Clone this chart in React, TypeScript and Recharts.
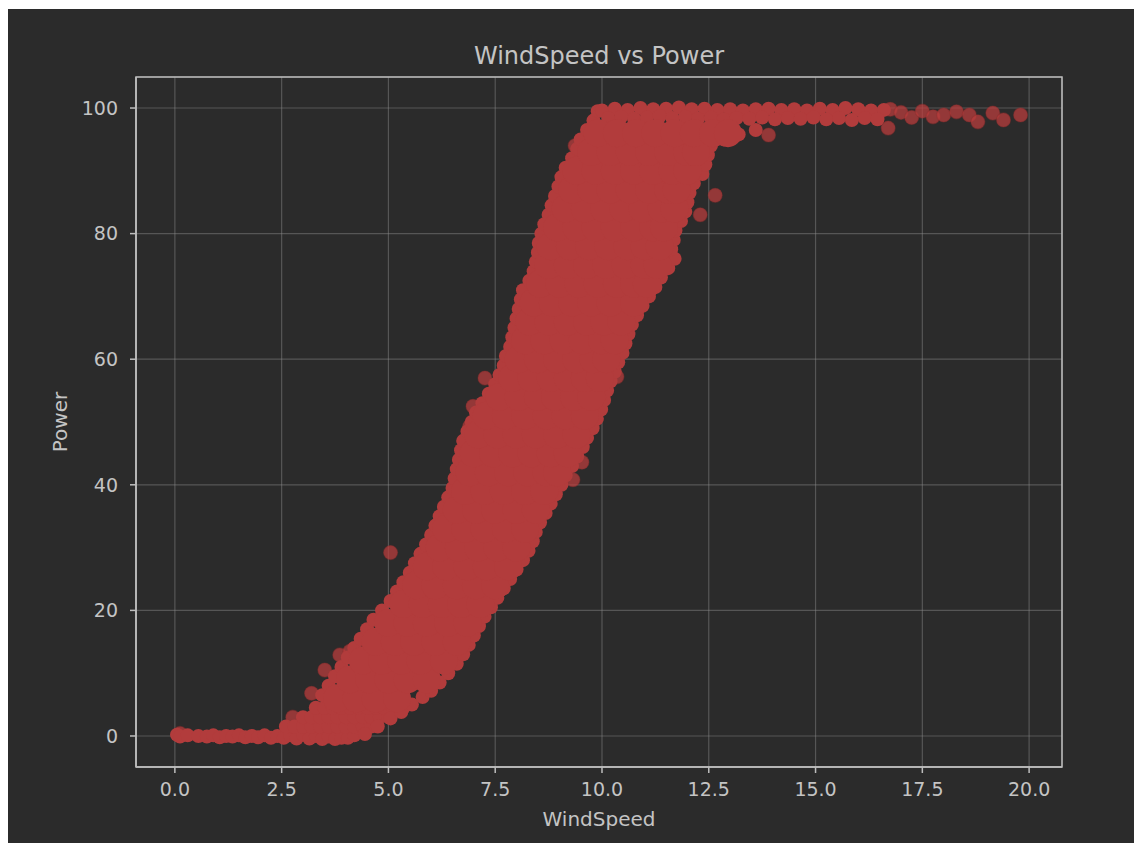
import {
  ScatterChart,
  Scatter,
  XAxis,
  YAxis,
  CartesianGrid,
  ReferenceArea,
  Label,
} from "recharts";

// axis ticks
const xTicks = [0, 2.5, 5, 7.5, 10, 12.5, 15, 17.5, 20];
const yTicks = [0, 20, 40, 60, 80, 100];

// dense middle of the cloud: one row of wind speeds per power level
const corePower = [6, 9, 12, 15, 18, 21, 24, 27, 30, 33, 36, 39, 42, 45, 48, 51, 54, 57, 60, 63, 66, 69, 72, 75, 78, 81, 84, 87, 90, 93, 96];
const coreWind = [
  [3.8, 4.25, 4.7, 5.2],
  [4.1, 4.55, 5.0, 5.45, 5.9],
  [4.4, 4.85, 5.3, 5.75, 6.3],
  [4.7, 5.15, 5.6, 6.1, 6.6],
  [5.0, 5.45, 5.9, 6.4, 6.85],
  [5.35, 5.8, 6.25, 6.7, 7.15],
  [5.65, 6.1, 6.6, 7.05, 7.5],
  [5.9, 6.35, 6.85, 7.3, 7.8],
  [6.2, 6.65, 7.1, 7.55, 8.0],
  [6.35, 6.8, 7.25, 7.75, 8.2],
  [6.6, 7.05, 7.5, 8.0, 8.45],
  [6.8, 7.25, 7.7, 8.2, 8.65],
  [6.9, 7.35, 7.8, 8.25, 8.7, 8.95],
  [7.0, 7.45, 7.9, 8.35, 8.8, 9.2],
  [7.1, 7.55, 8.0, 8.45, 8.95, 9.4],
  [7.3, 7.75, 8.2, 8.7, 9.15, 9.6],
  [7.6, 8.05, 8.5, 8.9, 9.35, 9.75],
  [7.9, 8.35, 8.8, 9.2, 9.6, 9.95],
  [8.05, 8.5, 8.95, 9.4, 9.8, 10.1],
  [8.2, 8.65, 9.1, 9.55, 10.0, 10.3],
  [8.3, 8.75, 9.2, 9.65, 10.05, 10.45],
  [8.4, 8.85, 9.3, 9.75, 10.2, 10.75],
  [8.55, 9.0, 9.45, 9.9, 10.35, 10.75, 11.05],
  [8.75, 9.2, 9.65, 10.1, 10.55, 11.0, 11.3],
  [8.8, 9.25, 9.7, 10.15, 10.6, 11.0, 11.35],
  [8.95, 9.4, 9.85, 10.3, 10.75, 11.2, 11.45],
  [9.15, 9.6, 10.05, 10.5, 10.95, 11.4, 11.7],
  [9.3, 9.75, 10.2, 10.65, 11.1, 11.55, 11.75],
  [9.4, 9.85, 10.3, 10.75, 11.2, 11.65, 12.0],
  [9.75, 10.2, 10.65, 11.1, 11.55, 12.0, 12.2],
  [9.9, 10.35, 10.8, 11.25, 11.7, 12.15, 12.6, 12.95],
];

// [windspeed, power]
const flatBand = [
  [0.05, 0.2], [0.12, -0.1], [0.3, 0.1], [0.55, 0.0], [0.75, -0.1], [0.9, 0.1], [1.05, -0.2],
  [1.2, 0.0], [1.35, -0.1], [1.5, 0.1], [1.65, -0.2], [1.8, 0.0], [1.95, -0.2], [2.1, 0.1],
  [2.25, -0.3], [2.4, 0.0], [2.55, -0.3], [2.7, 0.1], [2.85, -0.4], [3.0, 0.2], [3.15, -0.4],
  [3.3, 0.0], [3.45, -0.5], [3.6, -0.1], [3.75, -0.5], [3.9, -0.3], [4.05, -0.3], [4.2, 0.1],
];

const risingPart = [
  [2.6, 1.5], [2.8, 1.5], [3.0, 1.5], [3.2, 1.5], [3.4, 1.5], [3.6, 1.5], [3.8, 1.5], [4.0, 1.5], [4.2, 1.5], [4.4, 1.5], [4.6, 1.5],
  [3.0, 3], [3.2, 3], [3.4, 3], [3.6, 3], [3.8, 3], [4.0, 3], [4.2, 3], [4.4, 3], [4.6, 3], [4.8, 3], [5.0, 3],
  [3.3, 4.5], [3.5, 4.5], [3.7, 4.5], [3.9, 4.5], [4.1, 4.5], [4.3, 4.5], [4.5, 4.5], [4.7, 4.5], [4.9, 4.5], [5.1, 4.5], [5.35, 4.5],
];

const leftEdge = [
  [3.45, 6.5], [3.6, 8], [3.75, 9.5], [3.9, 11], [4.05, 12.5], [4.2, 14], [4.35, 15.5], [4.5, 17],
  [4.65, 18.5], [4.85, 20], [5.05, 21.5], [5.2, 23], [5.35, 24.5], [5.5, 26], [5.62, 27.5], [5.75, 29],
  [5.88, 30.5], [6.0, 32], [6.1, 33.5], [6.2, 35], [6.3, 36.5], [6.4, 38], [6.5, 39.5], [6.55, 41],
  [6.6, 42.5], [6.65, 44], [6.7, 45.5], [6.75, 47], [6.85, 48.5], [6.95, 50], [7.05, 51.5], [7.2, 53],
  [7.35, 54.5], [7.5, 56], [7.6, 57.5], [7.7, 59], [7.75, 60.5], [7.85, 62], [7.9, 63.5], [7.95, 65],
  [8.0, 66.5], [8.05, 68], [8.1, 69.5], [8.15, 71], [8.3, 72.5], [8.4, 74], [8.45, 75.5], [8.5, 77],
  [8.52, 78.5], [8.58, 80], [8.65, 81.5], [8.75, 83], [8.82, 84.5], [8.9, 86], [8.98, 87.5], [9.05, 89],
  [9.15, 90.5], [9.3, 92], [9.42, 93.5], [9.5, 95], [9.65, 96.5], [9.8, 98], [9.9, 99.5],
];

const rightEdge = [
  [4.45, 0.3], [4.75, 1.5], [5.05, 2.8], [5.3, 3.8], [5.55, 5], [5.8, 6.2], [6.0, 7.2], [6.2, 8.5],
  [6.4, 10], [6.6, 11.5], [6.75, 13], [6.88, 14.5], [7.0, 16], [7.12, 17.5], [7.25, 19], [7.4, 20.5],
  [7.55, 22], [7.7, 23.5], [7.85, 25], [8.0, 26.5], [8.15, 28], [8.28, 29.5], [8.38, 31], [8.45, 32.5],
  [8.55, 34], [8.68, 35.5], [8.8, 37], [8.92, 38.5], [9.05, 40], [9.15, 41.5], [9.3, 43], [9.42, 44.5],
  [9.55, 46], [9.65, 47.5], [9.78, 49], [9.88, 50.5], [9.98, 52], [10.05, 53.5], [10.12, 55], [10.2, 56.5],
  [10.3, 58], [10.38, 59.5], [10.48, 61], [10.55, 62.5], [10.62, 64], [10.7, 65.5], [10.82, 67], [10.95, 68.5],
  [11.1, 70], [11.25, 71.5], [11.38, 73], [11.55, 74.5], [11.7, 76], [11.62, 77.5], [11.68, 79], [11.72, 80.5],
  [11.85, 82], [11.95, 83.5], [12.0, 85], [12.05, 86.5], [12.15, 88], [12.35, 89.5], [12.42, 91], [12.48, 92.5],
  [12.55, 94], [12.85, 95], [13.2, 95.8], [13.6, 96.5],
];

const plateauTop = [
  [10.0, 99.6], [10.3, 99.9], [10.6, 99.7], [10.9, 100.0], [11.2, 99.8], [11.5, 99.9], [11.8, 100.1], [12.1, 99.8],
  [12.4, 99.9], [12.7, 99.7], [13.0, 99.8], [13.3, 99.6], [13.6, 99.8], [13.9, 99.9], [14.2, 99.7], [14.5, 99.8],
  [14.8, 99.6], [15.1, 99.9], [15.4, 99.7], [15.7, 100.0], [16.0, 99.8], [16.3, 99.6], [16.6, 99.7],
];

const plateauLow = [
  [10.15, 98.4], [10.45, 98.6], [10.75, 98.3], [11.05, 98.5], [11.35, 98.7], [11.65, 98.4], [11.95, 98.6], [12.25, 98.3],
  [12.55, 98.5], [12.85, 98.2], [13.15, 98.4], [13.45, 98.3], [13.75, 98.5], [14.05, 98.2], [14.35, 98.4], [14.65, 98.3],
  [14.95, 98.5], [15.25, 98.2], [15.55, 98.4], [15.85, 98.1], [16.15, 98.4], [16.45, 98.2],
];

const tail = [
  [16.75, 99.8], [17.0, 99.3], [17.25, 98.5], [17.5, 99.5], [17.75, 98.6], [18.0, 98.9], [18.3, 99.4],
  [18.6, 98.9], [18.8, 97.8], [19.15, 99.2], [19.4, 98.1], [19.8, 98.9],
];

const outliers = [
  [2.76, 3.0], [3.2, 6.8], [3.51, 10.5], [3.86, 12.9], [4.1, 13.5], [4.4, 15.3], [5.05, 29.2],
  [6.98, 52.5], [6.9, 49.3], [7.26, 57], [9.53, 43.6], [9.32, 40.8], [10.35, 57.2], [10.9, 69.4],
  [12.65, 86.1], [12.3, 83], [13.9, 95.7], [16.7, 96.8], [9.37, 94], [0.12, 0.4],
];

const toPoints = (pts: number[][]) => pts.map(([ws, power]) => ({ ws, power }));

const coreData = corePower.flatMap((power, i) => coreWind[i].map((ws) => ({ ws, power })));
const edgeData = toPoints([
  ...flatBand,
  ...risingPart,
  ...leftEdge,
  ...rightEdge,
  ...plateauTop,
  ...plateauLow,
]);
const looseData = toPoints([...tail, ...outliers]);

const font = "DejaVu Sans, sans-serif";
const textColor = "#c4c4c4";
const frameColor = "#bdbdbd";
const dense = "#b23c3c";

const EdgeDot = (props: any) => <circle cx={props.cx} cy={props.cy} r={7} fill={dense} />;

const LooseDot = (props: any) => (
  <circle
    cx={props.cx}
    cy={props.cy}
    r={7}
    fill="#b83e3e"
    fillOpacity={0.75}
    stroke="#8e2e2e"
    strokeOpacity={0.4}
    strokeWidth={1.2}
  />
);

const CoreDot = (props: any) => <circle cx={props.cx} cy={props.cy} r={14} fill={dense} />;

const XTitle = (props: any) => {
  const vb = props.viewBox;
  return (
    <text x={vb.x + vb.width / 2} y={vb.y + 59} textAnchor="middle" fill={textColor} fontSize={20} fontFamily={font}>
      WindSpeed
    </text>
  );
};

const YTitle = (props: any) => {
  const vb = props.viewBox;
  const x = vb.x + 1;
  const y = vb.y + vb.height / 2;
  return (
    <text x={x} y={y} transform={`rotate(-90 ${x} ${y})`} textAnchor="middle" fill={textColor} fontSize={20} fontFamily={font}>
      Power
    </text>
  );
};

const App = () => {
  return (
    <div style={{ marginLeft: -1, marginTop: 1, width: 1131, height: 834, background: "#2b2b2b" }}>
      <ScatterChart width={1131} height={834} margin={{ top: 68, right: 76, bottom: 16, left: 59 }}>
        <XAxis
          dataKey="ws"
          type="number"
          domain={[-0.91, 20.77]}
          ticks={xTicks}
          interval={0}
          allowDataOverflow
          height={60}
          tickSize={6}
          tickMargin={10}
          tickFormatter={(v: number) => v.toFixed(1)}
          axisLine={{ stroke: frameColor, strokeWidth: 1.5 }}
          tickLine={{ stroke: frameColor, strokeWidth: 1.5 }}
          tick={{ fill: textColor, fontSize: 19, fontFamily: font }}
        >
          <Label content={XTitle} />
        </XAxis>
        <YAxis
          dataKey="power"
          type="number"
          domain={[-4.94, 104.94]}
          ticks={yTicks}
          interval={0}
          allowDataOverflow
          width={70}
          tickSize={6}
          tickMargin={12}
          axisLine={{ stroke: frameColor, strokeWidth: 1.5 }}
          tickLine={{ stroke: frameColor, strokeWidth: 1.5 }}
          tick={{ fill: textColor, fontSize: 19, fontFamily: font }}
        >
          <Label content={YTitle} />
        </YAxis>
        <Scatter data={looseData} shape={LooseDot} isAnimationActive={false} />
        <Scatter data={edgeData} shape={EdgeDot} isAnimationActive={false} />
        <Scatter data={coreData} shape={CoreDot} isAnimationActive={false} />
        <CartesianGrid stroke="#8c8c8c" strokeOpacity={0.45} strokeWidth={1.2} />
        <ReferenceArea
          x1={-0.91}
          x2={20.77}
          y1={-4.94}
          y2={104.94}
          ifOverflow="visible"
          fill="none"
          fillOpacity={0}
          stroke={frameColor}
          strokeWidth={1.5}
          label={{ value: "WindSpeed vs Power", position: "top", offset: 13, fill: textColor, fontSize: 24, fontFamily: font }}
        />
      </ScatterChart>
    </div>
  );
};

export default App;
